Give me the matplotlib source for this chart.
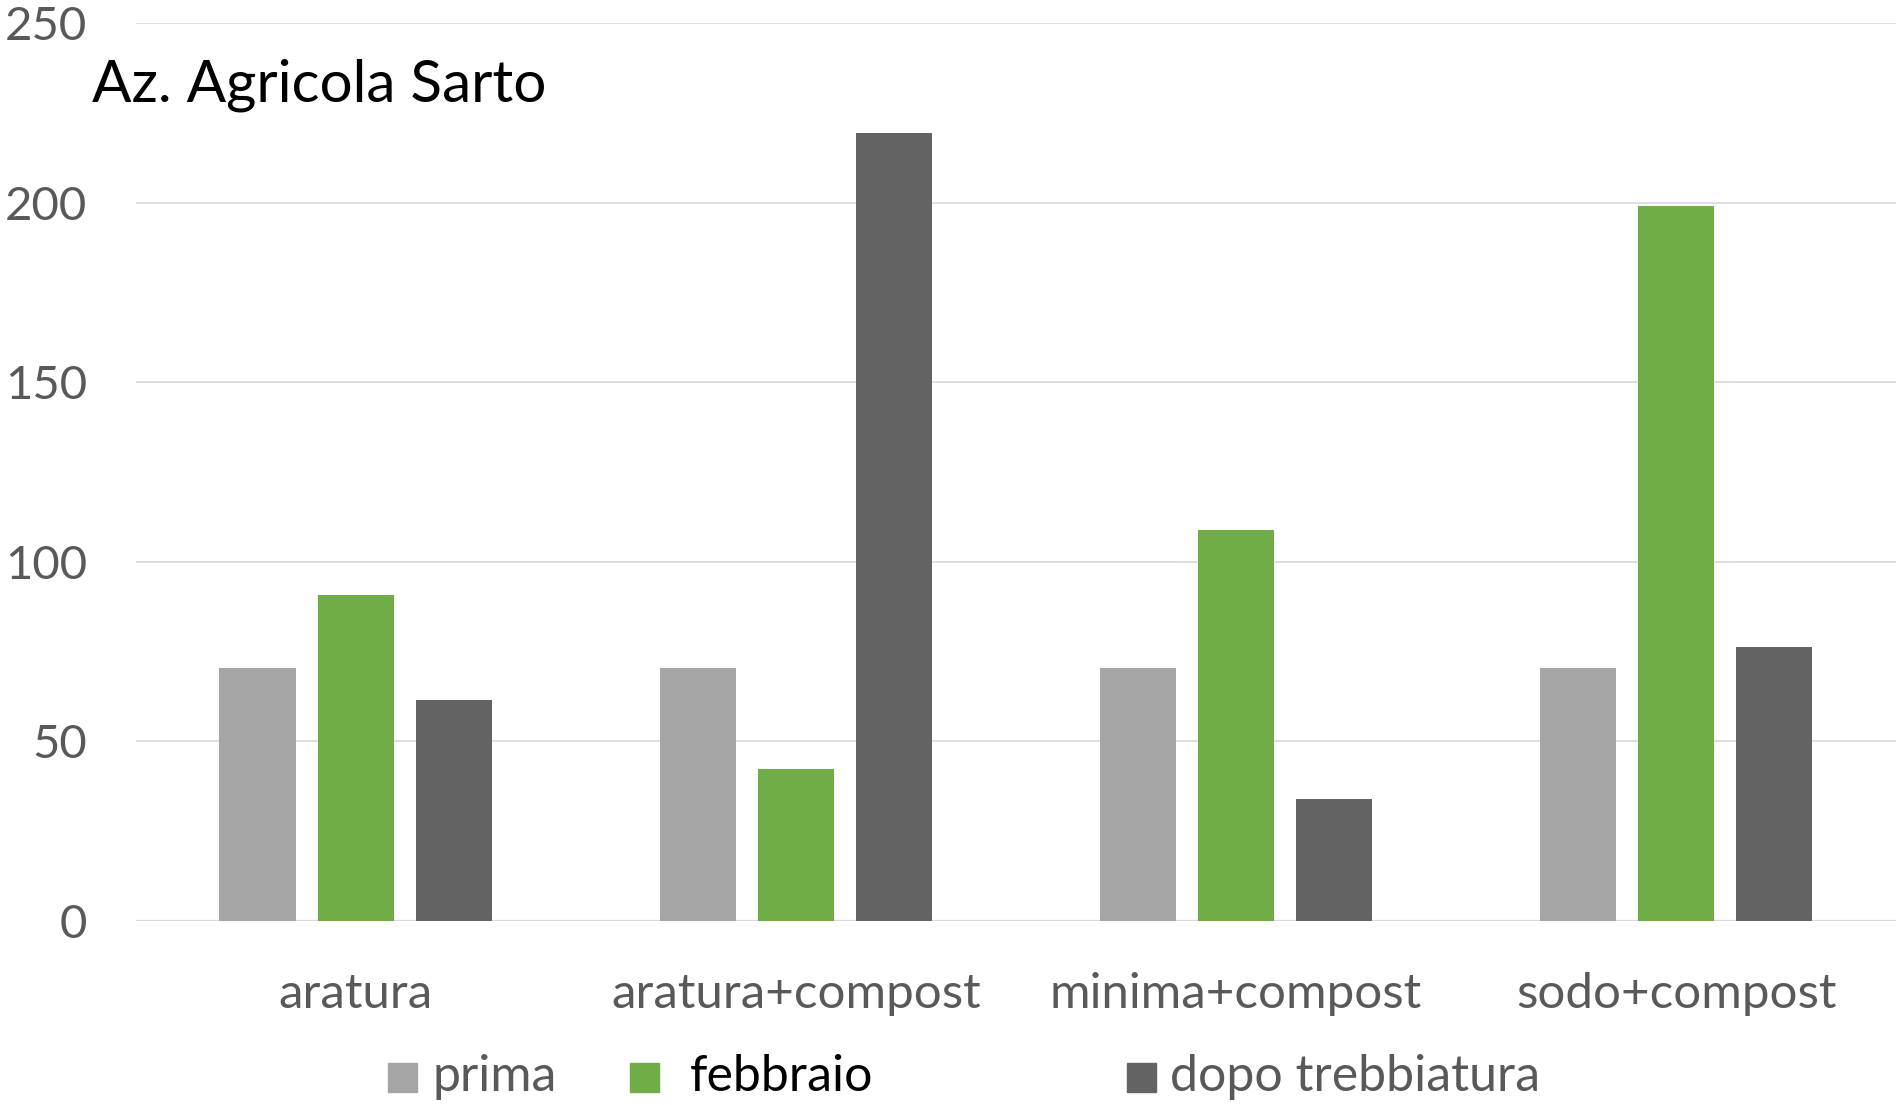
import numpy as np
import matplotlib
matplotlib.use("Agg")
import matplotlib.pyplot as plt
from matplotlib.patches import Rectangle

categories = ["aratura", "aratura+compost", "minima+compost", "sodo+compost"]
series_names = ["prima", "febbraio", "dopo trebbiatura"]
prima = [70.5, 70.5, 70.5, 70.5]
febbraio = [90.9, 42.3, 108.8, 199.1]
dopo_trebbiatura = [61.5, 219.3, 33.9, 76.2]
y_ticks = [0, 50, 100, 150, 200, 250]

colors = ["#A5A5A5", "#70AD47", "#636363"]
text_grey = "#595959"

plt.rcParams["font.family"] = ["Lato", "DejaVu Sans"]

fig = plt.figure(figsize=(18.98, 11.05), dpi=100)
ax = fig.add_axes([0.0714, 0.1665, 0.9276, 0.8125])

x = np.arange(len(categories))
width = 0.173
step = 0.223
for i, (vals, col) in enumerate(zip([prima, febbraio, dopo_trebbiatura], colors)):
    ax.bar(x + (i - 1) * step, vals, width=width, color=col, zorder=3)

ax.set_xlim(-0.5, 3.5)
ax.set_ylim(0, 250)
ax.set_yticks(y_ticks)
ax.set_yticklabels([str(t) for t in y_ticks])
ax.set_xticks(x)
ax.set_xticklabels(categories)
ax.grid(axis="y", color="#D9D9D9", linewidth=1.2, zorder=0)
ax.tick_params(axis="y", length=0, pad=35, labelsize=34, labelcolor=text_grey)
ax.tick_params(axis="x", length=0, pad=37, labelsize=35.5, labelcolor=text_grey)
for s in ax.spines.values():
    s.set_visible(False)
ax.axhline(0, color="#D9D9D9", linewidth=1.6, zorder=2)

fig.text(92 / 1898, 1 - 85 / 1105, "Az. Agricola Sarto", fontsize=42,
         color="black", ha="left", va="center")

# legend row drawn along the bottom
leg_y = 1 - 1077 / 1105
sq_w, sq_h = 29 / 1898, 29 / 1105
legend_items = [(388, 433, text_grey), (630, 690, "black"), (1127, 1170, text_grey)]
for (sx, tx, tcol), name, col in zip(legend_items, series_names, colors):
    fig.add_artist(Rectangle((sx / 1898, leg_y - sq_h / 2), sq_w, sq_h,
                             transform=fig.transFigure, color=col))
    fig.text(tx / 1898, leg_y, name, fontsize=36, color=tcol,
             ha="left", va="center")

fig.savefig("out.png", dpi=100)
